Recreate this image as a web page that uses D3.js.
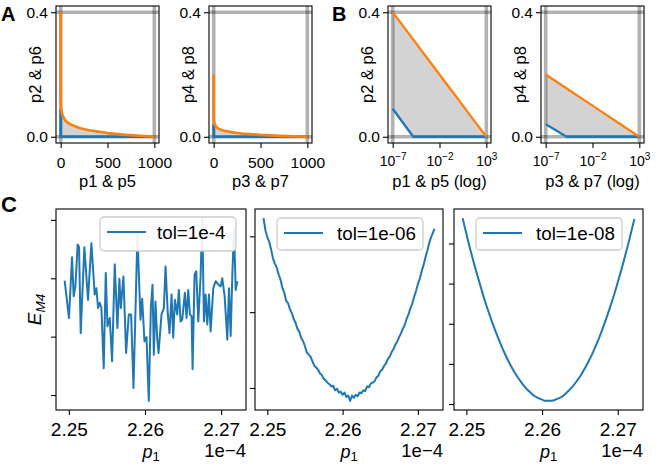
<!DOCTYPE html>
<html><head><meta charset="utf-8">
<script src="https://cdn.jsdelivr.net/npm/d3@7"></script>
<style>
body{margin:0;background:#fff}
svg{display:block}
text{font-family:"Liberation Sans",Arial,sans-serif;fill:#000}
</style>
</head><body>
<svg id="chart" width="660" height="467"></svg>
<script>
// ---------------- DATA ----------------
// Panels A/B: bounds (x on a common grid, lower = blue, upper = orange)
const BOUND_X   = [1e-7, 1e-6, 1e-5, 1.6e-5, 1.8e-5, 1e-4, 1e-3, 1e-2, 0.1, 0.5, 1, 2, 5, 10, 20, 50, 100, 200, 300, 500, 700, 1000];
const P26_UPPER = [0.4, 0.36, 0.32, 0.312, 0.310, 0.28, 0.24, 0.20, 0.16, 0.132, 0.12, 0.108, 0.092, 0.08, 0.068, 0.052, 0.04, 0.028, 0.021, 0.012, 0.0062, 0];
const P26_LOWER = [0.09, 0.049, 0.0082, 0, 0, 0, 0, 0, 0, 0, 0, 0, 0, 0, 0, 0, 0, 0, 0, 0, 0, 0];
const P48_UPPER = [0.2, 0.18, 0.16, 0.156, 0.155, 0.14, 0.12, 0.10, 0.08, 0.066, 0.06, 0.054, 0.046, 0.04, 0.034, 0.026, 0.02, 0.014, 0.0105, 0.006, 0.0031, 0];
const P48_LOWER = [0.04, 0.0222, 0.0044, 0.0008, 0, 0, 0, 0, 0, 0, 0, 0, 0, 0, 0, 0, 0, 0, 0, 0, 0, 0];
const REF_X = [1e-7, 1000];
const REF_Y = [0, 0.4];
const LIN_TICKS = [0, 500, 1000];
const LOG_TICKS = [1e-7, 1e-2, 1e3];
const LOG_TICK_EXP = ["\u22127", "\u22122", "3"];
const TOP_Y_TICKS = [0.0, 0.4];

// Panel C: E_M4 vs p1 (x in units of 1e-4, y in tick units; ticks unlabeled)
const C1_X = [2.24945, 2.25002, 2.25042, 2.25064, 2.25086, 2.25116, 2.25134, 2.25156, 2.25204, 2.25252, 2.25296, 2.25340, 2.25362, 2.25384, 2.25406, 2.25428, 2.25458, 2.25485, 2.25507, 2.25537, 2.25568, 2.25603, 2.25638, 2.25664, 2.25682, 2.25717, 2.25752, 2.25787, 2.25818, 2.25849, 2.25901, 2.25941, 2.25963, 2.25993, 2.26020, 2.26050, 2.26077, 2.26099, 2.26116, 2.26138, 2.26160, 2.26178, 2.26217, 2.26248, 2.26270, 2.26300, 2.26322, 2.26349, 2.26371, 2.26393, 2.26423, 2.26445, 2.26467, 2.26489, 2.26524, 2.26546, 2.26568, 2.26590, 2.26612, 2.26625, 2.26651, 2.26673, 2.26700, 2.26730, 2.26752, 2.26774, 2.26796, 2.26818, 2.26840, 2.26862, 2.26897, 2.26928, 2.26963, 2.26993, 2.27015, 2.27046, 2.27081, 2.27103, 2.27125, 2.27147, 2.27169, 2.27191, 2.27213];
const C1_Y = [1.96, 1.32, 2.36, 1.69, 1.86, 2.58, 2.54, 1.06, 2.53, 1.63, 2.60, 1.72, 1.83, 1.49, 1.58, 1.49, 0.46, 2.09, 1.18, 1.32, 0.58, 2.24, 1.15, 1.99, 1.49, 2.03, 0.72, 1.38, 1.38, 0.12, 2.75, 1.29, 1.65, 0.92, 0.99, -0.10, 1.49, 1.89, 0.69, 1.60, 0.98, 0.72, 1.38, 1.49, 2.20, 1.38, 1.06, 1.72, 0.98, 1.63, 1.38, 1.80, 1.26, 1.29, 1.75, 1.32, 1.80, 1.38, 1.35, 0.44, 2.06, 2.12, 1.26, 2.03, 3.03, 1.26, 1.72, 1.21, 1.72, 1.09, 1.83, 1.95, 1.89, 1.86, 2.00, 1.69, 0.95, 1.83, 1.01, 2.06, 2.85, 1.80, 1.95];
const C2_X = [2.24950, 2.24975, 2.25000, 2.25025, 2.25050, 2.25075, 2.25100, 2.25125, 2.25150, 2.25175, 2.25200, 2.25225, 2.25250, 2.25275, 2.25300, 2.25325, 2.25350, 2.25375, 2.25400, 2.25425, 2.25450, 2.25475, 2.25500, 2.25525, 2.25550, 2.25575, 2.25600, 2.25625, 2.25650, 2.25675, 2.25700, 2.25725, 2.25750, 2.25775, 2.25800, 2.25825, 2.25850, 2.25875, 2.25900, 2.25925, 2.25950, 2.25975, 2.26000, 2.26025, 2.26050, 2.26075, 2.26100, 2.26125, 2.26150, 2.26175, 2.26200, 2.26225, 2.26250, 2.26275, 2.26300, 2.26325, 2.26350, 2.26375, 2.26400, 2.26425, 2.26450, 2.26475, 2.26500, 2.26525, 2.26550, 2.26575, 2.26600, 2.26625, 2.26650, 2.26675, 2.26700, 2.26725, 2.26750, 2.26775, 2.26800, 2.26825, 2.26850, 2.26875, 2.26900, 2.26925, 2.26950, 2.26975, 2.27000, 2.27025, 2.27050, 2.27075, 2.27100, 2.27125, 2.27150, 2.27175, 2.27200, 2.27220];
const C2_Y = [2.24, 2.08, 1.99, 1.93, 1.83, 1.71, 1.64, 1.59, 1.50, 1.43, 1.32, 1.26, 1.15, 1.12, 1.04, 0.99, 0.91, 0.86, 0.78, 0.74, 0.66, 0.62, 0.55, 0.47, 0.44, 0.41, 0.35, 0.29, 0.27, 0.24, 0.19, 0.17, 0.12, 0.10, 0.07, 0.05, 0.02, 0.03, -0.03, -0.01, -0.06, -0.05, -0.09, -0.06, -0.12, -0.10, -0.17, -0.10, -0.13, -0.09, -0.11, -0.06, -0.07, -0.03, -0.04, 0.02, 0.01, 0.06, 0.07, 0.09, 0.14, 0.16, 0.22, 0.24, 0.29, 0.32, 0.38, 0.41, 0.47, 0.51, 0.57, 0.61, 0.67, 0.72, 0.78, 0.83, 0.91, 0.97, 1.05, 1.11, 1.20, 1.28, 1.37, 1.44, 1.54, 1.62, 1.72, 1.81, 1.91, 1.99, 2.05, 2.10];
const C3_X = [2.2495, 2.2500, 2.2505, 2.2510, 2.2515, 2.2520, 2.2525, 2.2530, 2.2535, 2.2540, 2.2545, 2.2550, 2.2555, 2.2560, 2.2565, 2.2570, 2.2575, 2.2580, 2.2585, 2.2590, 2.2595, 2.2600, 2.2605, 2.2610, 2.2615, 2.2620, 2.2625, 2.2630, 2.2635, 2.2640, 2.2645, 2.2650, 2.2655, 2.2660, 2.2665, 2.2670, 2.2675, 2.2680, 2.2685, 2.2690, 2.2695, 2.2700, 2.2705, 2.2710, 2.2715, 2.2720, 2.2722];
const C3_Y = [4.63, 4.24, 3.86, 3.51, 3.17, 2.85, 2.54, 2.26, 1.99, 1.74, 1.51, 1.29, 1.09, 0.91, 0.75, 0.61, 0.48, 0.37, 0.28, 0.20, 0.15, 0.11, 0.08, 0.08, 0.09, 0.13, 0.17, 0.24, 0.33, 0.43, 0.55, 0.68, 0.84, 1.01, 1.20, 1.41, 1.63, 1.88, 2.14, 2.42, 2.71, 3.03, 3.36, 3.71, 4.07, 4.46, 4.61];
const C_X_TICKS = [2.25, 2.26, 2.27];
const C1_Y_TICKS = [0, 1, 2, 3];
const C2_Y_TICKS = [0, 1, 2];
const C3_Y_TICKS = [0, 1, 2, 3, 4];
const C_LEGENDS = ["tol=1e-4", "tol=1e-06", "tol=1e-08"];

// ---------------- DRAWING ----------------
const BLUE = "#1f77b4", ORANGE = "#ff7f0e";
const svg = d3.select("#chart");
const pad = (ext, f = 0.05) => { const s = ext[1] - ext[0]; return [ext[0] - f * s, ext[1] + f * s]; };

function styleAxis(g, fs) {
  g.select(".domain").remove();
  g.selectAll(".tick line").attr("stroke", "#000").attr("stroke-width", 1.1);
  g.selectAll(".tick text").attr("font-size", fs).attr("fill", "#000")
    .attr("font-family", '"Liberation Sans", Arial, sans-serif');
}

function topPanel(cfg) {
  const L = cfg.left, R = cfg.left + 103, T = 6, B = 143;
  const g = svg.append("g");
  let x;
  if (cfg.log) {
    const le = pad(d3.extent(BOUND_X).map(Math.log10));
    x = d3.scaleLog().domain(le.map(v => Math.pow(10, v))).range([L, R]);
  } else {
    x = d3.scaleLinear().domain(pad(d3.extent(BOUND_X))).range([L, R]);
  }
  const y = d3.scaleLinear().domain(pad(d3.extent(REF_Y))).range([B, T]);
  const data = BOUND_X.map((v, i) => ({x: v, lo: cfg.lower[i], hi: cfg.upper[i]}));

  g.append("path").datum(data).attr("fill", "#d3d3d3")
    .attr("d", d3.area().x(d => x(d.x)).y0(d => y(d.lo)).y1(d => y(d.hi)));
  REF_X.forEach(v => g.append("line").attr("x1", x(v)).attr("x2", x(v)).attr("y1", T).attr("y2", B)
    .attr("stroke", "#000").attr("stroke-opacity", 0.3).attr("stroke-width", 3.6));
  REF_Y.forEach(v => g.append("line").attr("x1", L).attr("x2", R).attr("y1", y(v)).attr("y2", y(v))
    .attr("stroke", "#000").attr("stroke-opacity", 0.3).attr("stroke-width", 3.6));
  const lw = cfg.log ? 2.3 : 2.7;
  g.append("path").datum(data).attr("fill", "none").attr("stroke", BLUE).attr("stroke-width", lw)
    .attr("stroke-linejoin", "round").attr("d", d3.line().x(d => x(d.x)).y(d => y(d.lo)));
  g.append("path").datum(data).attr("fill", "none").attr("stroke", ORANGE).attr("stroke-width", lw)
    .attr("stroke-linejoin", "round").attr("d", d3.line().x(d => x(d.x)).y(d => y(d.hi)));
  g.append("rect").attr("x", L).attr("y", T).attr("width", R - L).attr("height", B - T)
    .attr("fill", "none").attr("stroke", "#000").attr("stroke-width", 1.1);

  const xa = g.append("g").attr("transform", `translate(0,${B})`)
    .call(d3.axisBottom(x).tickValues(cfg.log ? LOG_TICKS : LIN_TICKS).tickSize(5).tickPadding(cfg.log ? 8 : 9)
      .tickFormat(cfg.log ? (() => "") : d3.format("d")));
  styleAxis(xa, 15.5);
  if (cfg.log) {
    xa.selectAll(".tick text").each(function(d, i) {
      const t = d3.select(this).attr("font-family", '"DejaVu Sans", sans-serif').attr("font-size", 14);
      t.append("tspan").text("10");
      t.append("tspan").attr("dy", "-0.62em").attr("font-size", 10).text(LOG_TICK_EXP[i]);
    });
  }
  const ya = g.append("g").attr("transform", `translate(${L},0)`)
    .call(d3.axisLeft(y).tickValues(TOP_Y_TICKS).tickSize(5).tickPadding(3).tickFormat(d3.format(".1f")));
  styleAxis(ya, 15.5);

  g.append("text").attr("transform", `translate(${L - 21},${(T + B) / 2}) rotate(-90)`)
    .attr("text-anchor", "middle").attr("dy", "0.35em").attr("font-size", 16.5).text(cfg.ylabel);
  g.append("text").attr("x", (L + R) / 2).attr("y", 186.5).attr("text-anchor", "middle")
    .attr("font-size", 16.5).text(cfg.xlabel);
  if (cfg.letter) g.append("text").attr("x", cfg.letterX).attr("y", 21).attr("font-weight", "bold")
    .attr("font-size", 20).text(cfg.letter);
}

topPanel({left: 56, log: false, upper: P26_UPPER, lower: P26_LOWER, ylabel: "p2 & p6", xlabel: "p1 & p5", letter: "A", letterX: 1});
topPanel({left: 209, log: false, upper: P48_UPPER, lower: P48_LOWER, ylabel: "p4 & p8", xlabel: "p3 & p7"});
topPanel({left: 388, log: true, upper: P26_UPPER, lower: P26_LOWER, ylabel: "p2 & p6", xlabel: "p1 & p5 (log)", letter: "B", letterX: 332});
topPanel({left: 541, log: true, upper: P48_UPPER, lower: P48_LOWER, ylabel: "p4 & p8", xlabel: "p3 & p7 (log)"});

function cPanel(cfg) {
  const L = cfg.left, R = cfg.right, T = 209, B = 410;
  const g = svg.append("g");
  const x = d3.scaleLinear().domain(pad(d3.extent(cfg.xs))).range([L, R]);
  const y = d3.scaleLinear().domain(pad(d3.extent(cfg.ys))).range([B, T]);
  const pts = cfg.xs.map((v, i) => [v, cfg.ys[i]]);
  g.append("path").datum(pts).attr("fill", "none").attr("stroke", BLUE).attr("stroke-width", 2)
    .attr("stroke-linejoin", "round")
    .attr("d", d3.line().x(d => x(d[0])).y(d => y(d[1])).curve(cfg.smooth ? d3.curveMonotoneX : d3.curveLinear));
  g.append("rect").attr("x", L).attr("y", T).attr("width", R - L).attr("height", B - T)
    .attr("fill", "none").attr("stroke", "#000").attr("stroke-width", 1.1);
  const xa = g.append("g").attr("transform", `translate(0,${B})`)
    .call(d3.axisBottom(x).tickValues(C_X_TICKS).tickSize(5).tickPadding(8).tickFormat(d3.format(".2f")));
  styleAxis(xa, 19);
  const ya = g.append("g").attr("transform", `translate(${L},0)`)
    .call(d3.axisLeft(y).tickValues(cfg.yticks).tickSize(5).tickFormat(() => ""));
  styleAxis(ya, 19);
  // legend
  const lg = cfg.legend;
  g.append("rect").attr("x", lg.x).attr("y", lg.y).attr("width", lg.w).attr("height", lg.h).attr("rx", 4)
    .attr("fill", "#fff").attr("fill-opacity", 0.9).attr("stroke", "#cccccc").attr("stroke-width", 1.3);
  g.append("line").attr("x1", lg.x + 7).attr("x2", lg.x + 46).attr("y1", lg.y + 15).attr("y2", lg.y + 15)
    .attr("stroke", BLUE).attr("stroke-width", 2);
  g.append("text").attr("x", lg.x + lg.tx).attr("y", lg.y + 22).attr("font-size", 18.8).text(cfg.label);
  // x label and offset
  const xl = g.append("text").attr("x", (L + R) / 2).attr("y", 458).attr("text-anchor", "middle")
    .attr("font-family", '"DejaVu Sans", sans-serif').attr("font-style", "italic").attr("font-size", 18);
  xl.append("tspan").text("p");
  xl.append("tspan").attr("dy", "0.25em").attr("font-style", "normal").attr("font-size", 13).text("1");
  g.append("text").attr("x", R).attr("y", 457).attr("text-anchor", "end").attr("font-size", 18.5).text("1e\u22124");
  if (cfg.ylabel) {
    const yl = g.append("text").attr("transform", `translate(${L - 15},${(T + B) / 2}) rotate(-90)`)
      .attr("text-anchor", "middle").attr("font-family", '"DejaVu Sans", sans-serif').attr("font-size", 19);
    yl.append("tspan").attr("font-style", "italic").text("E");
    yl.append("tspan").attr("dy", "0.3em").attr("font-style", "italic").attr("font-size", 13.5).text("M4");
    g.append("text").attr("x", 1).attr("y", 212).attr("font-weight", "bold").attr("font-size", 22).text("C");
  }
}

cPanel({left: 56, right: 246, xs: C1_X, ys: C1_Y, yticks: C1_Y_TICKS, label: C_LEGENDS[0], ylabel: true,
  legend: {x: 100, y: 217, w: 136, h: 34, tx: 57}});
cPanel({left: 255, right: 443, xs: C2_X, ys: C2_Y, yticks: C2_Y_TICKS, label: C_LEGENDS[1],
  legend: {x: 277, y: 218, w: 146, h: 32, tx: 60}});
cPanel({left: 454, right: 643, xs: C3_X, ys: C3_Y, yticks: C3_Y_TICKS, label: C_LEGENDS[2], smooth: true,
  legend: {x: 476, y: 218, w: 146, h: 32, tx: 60}});
</script>
</body></html>
